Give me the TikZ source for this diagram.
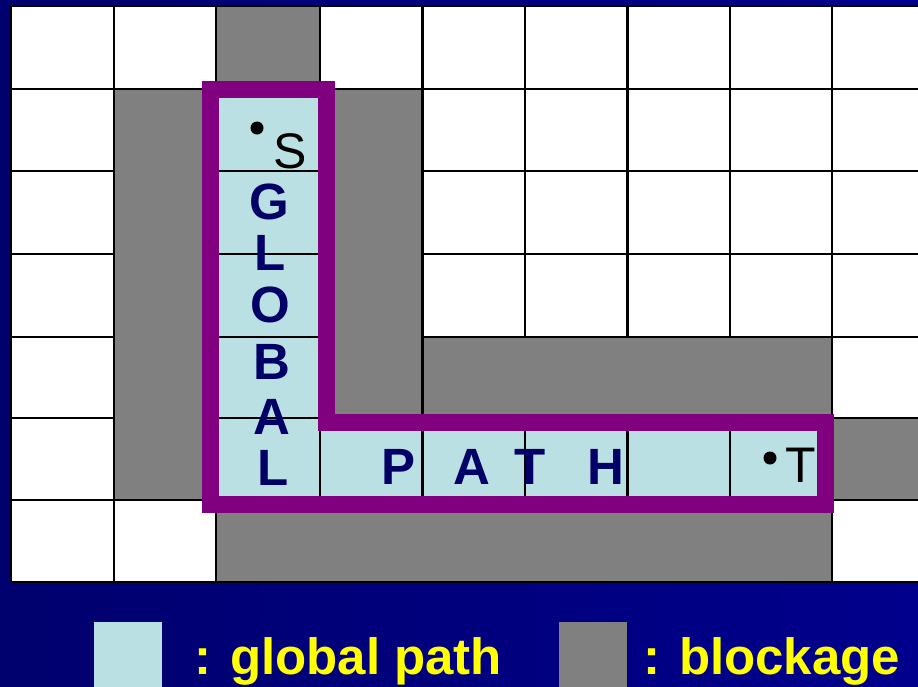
\documentclass[tikz,border=0pt]{standalone}
\usepackage{fontspec}
\setmainfont{Liberation Sans}
\definecolor{bgL}{RGB}{0,0,110}
\definecolor{bgR}{RGB}{0,0,140}
\definecolor{pathblue}{RGB}{186,224,228}
\definecolor{blockgray}{RGB}{128,128,128}
\definecolor{pathpurple}{RGB}{128,0,128}
\definecolor{lettnavy}{RGB}{0,0,102}
\definecolor{legyellow}{RGB}{255,255,0}
\begin{document}
\begin{tikzpicture}[x=1pt,y=-1pt,
  gridline/.style={black,line width=2.2pt},
  blockcell/.style={fill=blockgray,draw=black,line width=2.2pt},
  pathborder/.style={draw=pathpurple,line width=17pt,miter limit=10},
  bigletter/.style={anchor=base,inner sep=0pt,text=lettnavy,font=\fontsize{51}{51}\selectfont\bfseries},
  termlabel/.style={anchor=base,inner sep=0pt,text=black,font=\fontsize{50}{50}\selectfont},
  legendtext/.style={anchor=base west,inner sep=0pt,text=legyellow,font=\fontsize{51}{51}\selectfont\bfseries},
  pin/.style={fill=black}]
\useasboundingbox (0,0) rectangle (918,686);
\clip (0,0) rectangle (918,686);
\shade[left color=bgL,right color=bgR] (0,0) rectangle (918,686);
% white board
\fill[white] (11,6) rectangle (940,582);
% global path cells
\fill[pathblue] (216,89) -- (320,89) -- (320,418) -- (832,418) -- (832,500) -- (216,500) -- cycle;
% grid
\foreach \x in {11,114,216,320,422.5,525,627.5,730,832}
  \draw[gridline] (\x,6) -- (\x,582);
\foreach \y in {6,89,171,254,337,418,500,582}
  \draw[gridline] (11,\y) -- (940,\y);
% blockages
\path[blockcell] (216,6) rectangle (320,89);
\path[blockcell] (114,89) rectangle (216,500);
\path[blockcell] (320,89) rectangle (422.5,418);
\path[blockcell] (422.5,337) rectangle (832,418);
\path[blockcell] (216,500) rectangle (832,582);
\path[blockcell] (832,418) rectangle (940,500);
% path border
\draw[pathborder] (210.5,89.5) -- (326,89.5) -- (326,422) -- (825,422) -- (825,504.5) -- (210.5,504.5) -- cycle;
% terminals
\fill[pin] (257,128) circle (6.5pt);
\fill[pin] (770,458) circle (6.5pt);
\node[termlabel] (s) at (290,168) {S};
\node[termlabel] (t) at (801,482) {T};
% GLOBAL
\node[bigletter] (g1) at (269,219) {G};
\node[bigletter] (g2) at (270,270) {L};
\node[bigletter] (g3) at (270,322) {O};
\node[bigletter] (g4) at (272,379) {B};
\node[bigletter] (g5) at (272,434) {A};
\node[bigletter] (g6) at (273,485) {L};
% PATH
\node[bigletter] (p1) at (399,484) {P};
\node[bigletter] (p2) at (472,484) {A};
\node[bigletter] (p3) at (530,484) {T};
\node[bigletter] (p4) at (606,484) {H};
% legend
\fill[pathblue] (94,622) rectangle (162,690);
\node[legendtext] (l1) at (194,674) {: global path};
\fill[blockgray] (559,622) rectangle (627,690);
\node[legendtext] (l2) at (643,674) {: blockage};
\end{tikzpicture}
\end{document}
